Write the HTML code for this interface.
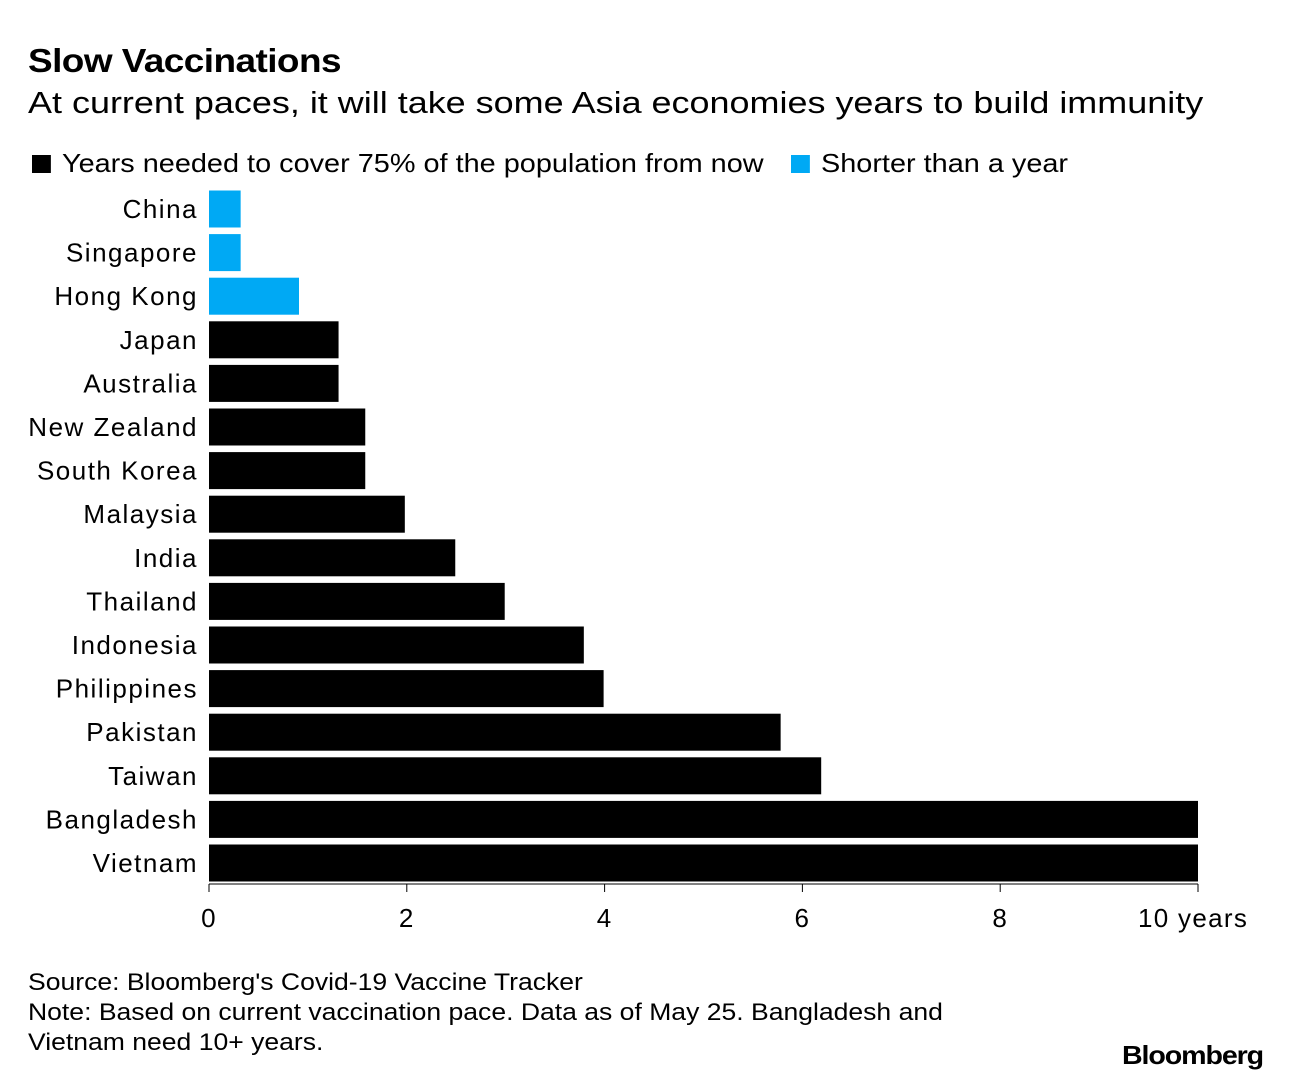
<!DOCTYPE html>
<html><head><meta charset="utf-8"><style>
body{margin:0;background:#fff;width:1291px;height:1082px;overflow:hidden;font-family:"Liberation Sans",sans-serif;color:#000}
.t{position:absolute;white-space:nowrap;transform-origin:0 0}
</style></head><body>
<div class="t" style="left:28px;top:42px;font-size:33px;font-weight:bold;letter-spacing:-0.5px;transform:scaleX(1.12)">Slow Vaccinations</div>
<div class="t" style="left:28px;top:85px;font-size:31px;transform:scaleX(1.16)">At current paces, it will take some Asia economies years to build immunity</div>
<div class="t" style="left:32px;top:148px;font-size:26px;transform:scaleX(1.11)"><span style="display:inline-block;width:17px;height:18px;background:#000;margin-right:10px;vertical-align:-1px"></span>Years needed to cover 75% of the population from now</div>
<div class="t" style="left:791px;top:148px;font-size:26px;transform:scaleX(1.11)"><span style="display:inline-block;width:17px;height:18px;background:#00a9f4;margin-right:10px;vertical-align:-1px"></span>Shorter than a year</div>
<svg id="chart" width="1291" height="1082" style="position:absolute;left:0;top:0"></svg>
<div class="t" style="left:28px;top:968px;font-size:24px;line-height:30px;transform:scaleX(1.106)">Source: Bloomberg's Covid-19 Vaccine Tracker<br>Note: Based on current vaccination pace. Data as of May 25. Bangladesh and<br>Vietnam need 10+ years.</div>
<div class="t" style="left:1122px;top:1040px;font-size:26px;font-weight:bold;letter-spacing:-1px;transform:scaleX(1.1)">Bloomberg</div>
<script>
const categories=["China","Singapore","Hong Kong","Japan","Australia","New Zealand","South Korea","Malaysia","India","Thailand","Indonesia","Philippines","Pakistan","Taiwan","Bangladesh","Vietnam"];
const values=[0.32,0.32,0.91,1.31,1.31,1.58,1.58,1.98,2.49,2.99,3.79,3.99,5.78,6.19,10,10];
const tickValues=[0,2,4,6,8,10];
const tickLabels=["0","2","4","6","8","10 years"];
const svg=document.getElementById('chart');
const NS='http://www.w3.org/2000/svg';
const x=v=>209+v*98.9;
const yc=i=>209+i*43.6;
function mk(t,a){const e=document.createElementNS(NS,t);for(const k in a)e.setAttribute(k,a[k]);svg.appendChild(e);return e;}
categories.forEach((c,i)=>{
  const r=mk('rect',{x:x(0),y:yc(i)-18.5,width:x(values[i])-x(0),height:37,fill:values[i]<1?'#00a9f4':'#000'});
  
  
  const t=mk('text',{x:198,y:yc(i)+9,'text-anchor':'end','font-size':26,'letter-spacing':1.5,'font-family':'Liberation Sans, sans-serif'});
  t.textContent=c;
  
  
});
const ax=mk('line',{x1:x(0),x2:x(10),y1:884,y2:884,stroke:'#000','stroke-width':1});


tickValues.forEach((v,i)=>{
  mk('line',{x1:x(v),x2:x(v),y1:884,y2:892,stroke:'#000','stroke-width':1});
  const last=i==tickValues.length-1;
  const t=mk('text',{x:last?x(v)-60:x(v),y:927,'text-anchor':last?'start':'middle','font-size':26,'letter-spacing':1.3,'font-family':'Liberation Sans, sans-serif'});
  t.textContent=tickLabels[i];
  
  
});
</script>
</body></html>
